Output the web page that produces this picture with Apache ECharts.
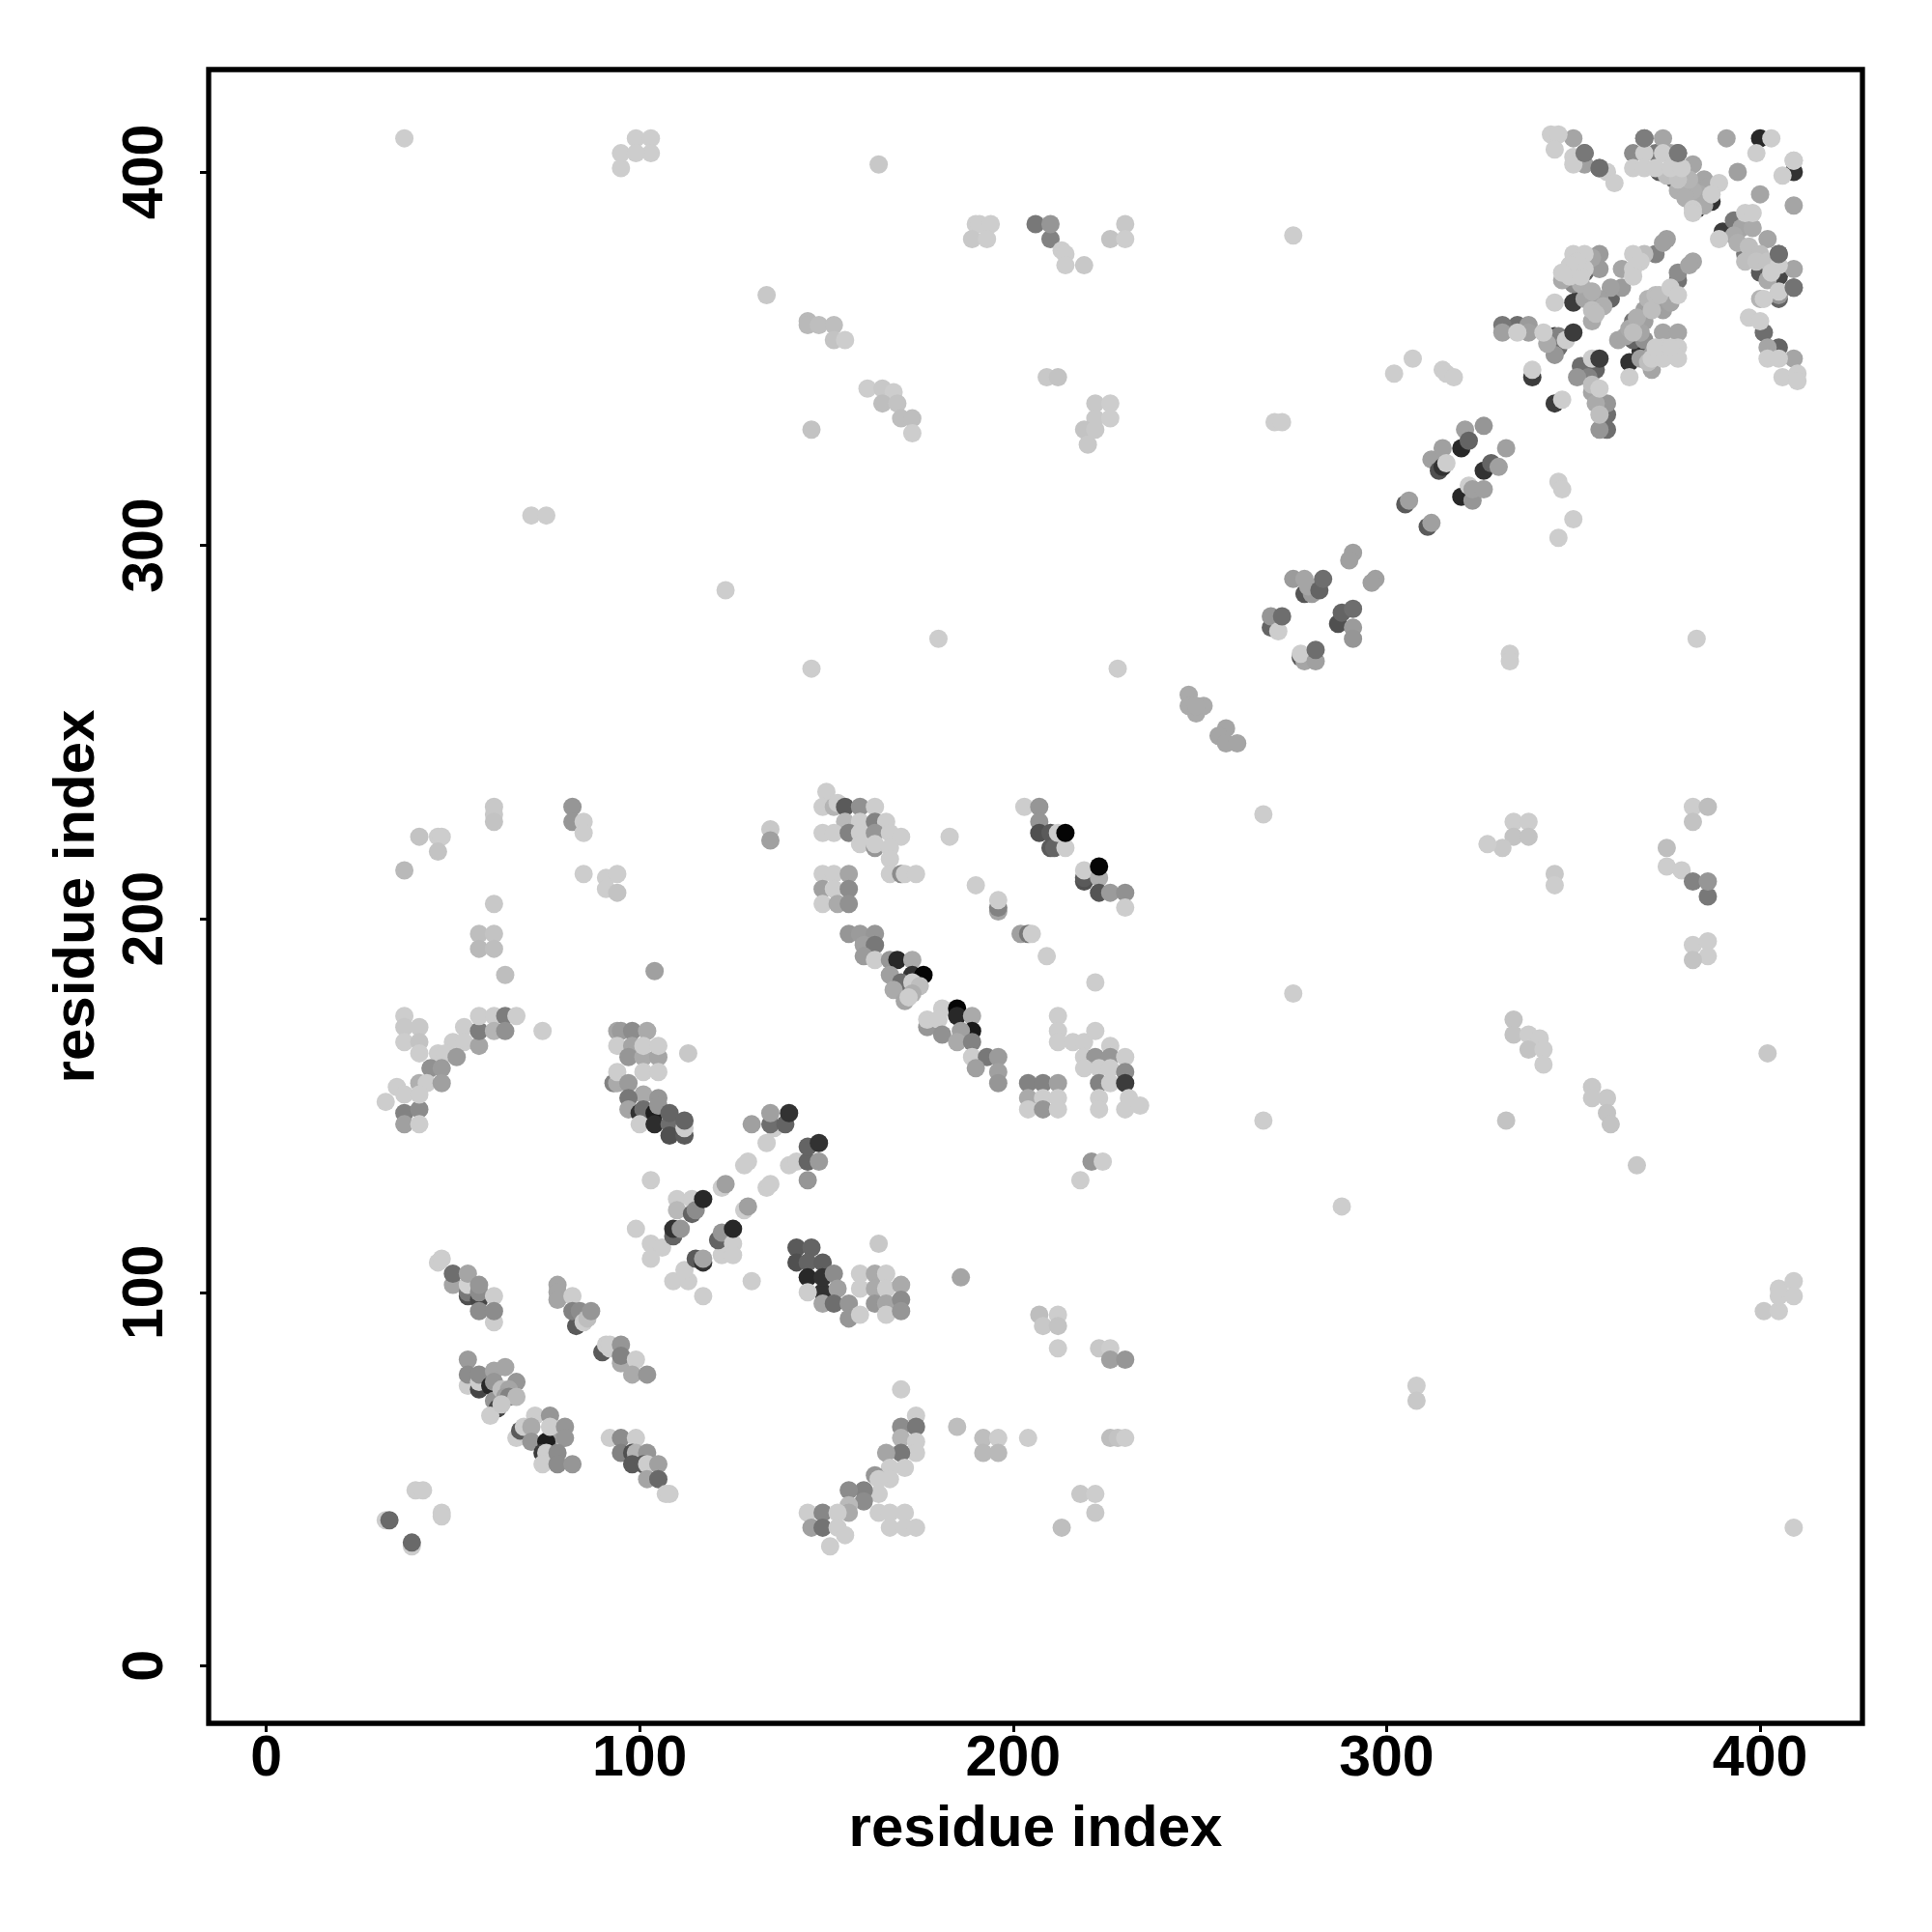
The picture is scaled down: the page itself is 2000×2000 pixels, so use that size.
<!DOCTYPE html>
<html><head><meta charset="utf-8">
<style>html,body{margin:0;padding:0;background:#fff}#c{width:2000px;height:2000px}</style>
<script src="https://cdn.jsdelivr.net/npm/echarts@6/dist/echarts.min.js"></script>
</head><body><div id="c"></div>
<script>
const tickLabels = [0,100,200,300,400];
const axisTitle = "residue index";
// each contact: [residue i, residue j, grey level]
const lowerLeft = [[32,39,205],[33,39,105],[39,32,205],[39,33,105],[40,47,205],[42,47,205],[47,41,205],[47,40,205],
[46,108,205],[47,109,205],[50,102,165],[50,105,110],[54,99,80],[54,100,120],[54,102,210],[54,105,165],[57,98,70],[57,100,140],[57,102,150],[61,99,205],[57,95,140],[61,92,205],[61,95,140],
[78,102,165],[78,100,165],[78,98,165],[82,99,205],[83,91,90],[82,95,130],[84,95,140],[85,92,205],[86,93,190],[87,95,150],
[90,84,90],[91,86,205],[92,85,205],[92,86,205],[95,86,150],[95,81,170],[95,83,130],[99,82,205],[98,78,170],[102,78,150],
[54,82,155],[54,75,205],[54,78,140],[57,74,70],[57,76,205],[57,78,140],[61,79,165],[64,80,165],[60,75,40],[61,76,150],[61,71,150],[62,69,70],[60,67,205],[67,76,150],[63,74,190],[65,74,165],[64,72,160],[65,72,130],[67,72,185],[63,70,200],
[67,61,205],[68,63,90],[69,64,205],[72,67,205],[71,64,170],[71,60,150],[76,67,150],[76,61,160],[75,60,30],[76,64,205],[80,64,150],[80,61,150],
[74,57,60],[75,57,205],[78,57,140],[74,54,205],[78,54,140],[82,54,150],
[92,61,205],[95,61,140],[99,61,205],[95,57,130],[98,57,80],[99,57,180],[102,57,150],[98,54,90],[101,54,90],[102,54,205],[105,54,160],[102,50,165],[105,50,105],[107,46,205],[108,46,205]];
const leftTop = [[61,230,200],[61,228,200],[61,226,195],[82,230,150],[82,226,150],[85,226,205],[85,223,205],[41,222,195],[46,222,205],[47,222,205],[46,218,195],[37,213,185],
[85,212,205],[91,211,205],[94,212,205],[91,208,205],[94,207,195],[61,204,200],[57,196,190],[61,196,195],[57,192,185],[61,192,190],[64,185,190],[104,186,160],
[37,174,205],[37,171,200],[37,167,205],[41,171,200],[41,167,195],[41,164,205],[53,171,205],[50,167,205],[53,167,205],[57,166,165],[57,170,125],[57,174,205],[61,174,205],[61,170,180],[64,174,125],[64,170,145],[67,174,205],[74,170,205],
[46,164,205],[48,164,205],[51,163,155],[44,160,145],[47,160,155],[41,156,175],[43,156,205],[47,156,160],[35,155,205],[32,151,205],[37,148,130],[41,149,140],[37,145,160],[41,145,205],[37,153,205],[41,153,205]];
const blockNear100 = [[94,170,165],[95,170,155],[98,170,140],[102,170,170],[94,166,205],[98,166,165],[97,163,150],[101,163,170],[105,163,165],[101,166,205],[105,166,205],[113,164,200],[101,159,205],[105,159,205],
[93,156,130],[94,156,170],[94,159,205],[97,156,155],[101,153,170],[105,152,150],[97,152,120],[97,149,165],[100,148,50],[101,149,110],[104,148,30],[105,150,150],[100,145,205],[104,145,45],[108,145,110],[108,148,100],[108,142,80],[112,142,90],[112,144,205],[112,146,100]];
const antiParallel = [[103,130,205],[99,117,205],[103,113,205],[106,112,205],[103,109,205],[109,103,205],[113,103,205],[112,106,205],[117,99,205],[130,103,205],
[115,109,90],[117,108,50],[117,109,165],[109,115,100],[109,117,50],[111,117,150],[110,125,205],[114,125,205],[110,122,185],[114,121,100],[115,122,140],[117,125,40],
[122,128,205],[123,129,160],[128,122,205],[129,123,160],[128,134,205],[129,135,205],[134,128,205],[135,129,205],[122,110,205],[121,114,100],[122,116,150],[125,113,205],[125,110,205],[125,117,40],
[134,140,205],[136,144,205],[130,145,160],[135,145,110],[135,148,160],[139,145,100],[140,148,50],[140,134,205],[142,135,205],[145,135,100],[148,135,155],[145,139,100],[148,140,50],[145,130,150]];
const midLower = [[142,112,90],[142,108,80],[146,112,100],[145,108,100],[149,108,95],[145,104,40],[149,100,50],[149,104,50],[145,100,205],[149,97,165],[152,105,140],[153,101,160],[152,97,110],[156,97,150],[156,93,150],[159,94,205],[159,105,205],[159,101,205],[163,105,170],[163,101,170],[163,97,150],[166,105,205],[166,101,205],[166,97,165],[166,94,205],[170,102,170],[170,98,140],[170,95,150],[164,113,200],[186,104,165],
[207,94,190],[212,94,205],[208,91,200],[212,91,195],[212,85,205],[223,85,200],[226,85,205],[226,82,160],[230,82,150],
[170,74,205],[174,67,205],[170,64,140],[174,64,120],[170,61,180],[174,60,205],[174,57,205],[170,57,120],[166,57,165],[171,53,205],[167,53,205],[167,50,205],[163,51,150],[164,50,205],[164,46,205],[160,47,130],[160,44,140],[156,47,140],[156,43,185],[156,41,170],
[164,41,205],[167,41,205],[171,41,205],[167,37,205],[171,37,205],[174,37,205],[145,41,205],[149,41,135],[153,41,205],[146,37,160],[149,37,115],[153,37,205],[155,35,205],[151,32,205],
[185,64,190],[192,61,190],[196,61,205],[192,57,185],[196,57,185],[204,61,205],[226,61,190],[228,61,195],[230,61,205],[218,46,200],[222,46,205],[222,41,200],[213,37,190],
[308,75,205],[308,71,200],[409,37,205],[401,95,200],[405,95,205],[405,99,205],[405,101,205],[409,103,205],[409,99,205]];
const midUpper = [[135,224,200],[135,221,160],[150,234,205],[149,230,205],[152,230,180],[153,231,205],[155,230,90],[159,230,145],[163,230,205],[155,226,185],[159,226,205],[163,226,130],[166,226,205],
[149,223,205],[152,223,205],[156,223,130],[159,223,205],[163,223,150],[167,223,205],[170,222,205],[159,220,205],[163,219,150],[163,220,205],[167,219,205],[167,216,205],[167,212,205],[170,212,140],[171,212,205],[174,212,205],[183,222,205],[190,209,205],[196,202,165],[196,203,130],[196,205,205],
[203,230,205],[207,230,150],[207,226,150],[207,223,80],[210,223,90],[210,219,90],[211,219,100],[214,219,205],[212,223,205],[214,223,5],
[202,196,160],[204,196,120],[205,196,205],[209,190,205],[222,183,205],[219,210,80],[219,211,90],[219,213,205],[223,211,175],[223,214,5],[223,207,85],[226,207,155],[230,207,145],[230,203,205],
[149,212,205],[152,212,205],[156,212,165],[149,208,160],[152,208,205],[156,208,140],[149,204,205],[153,204,170],[156,204,145]];
const midDiagonal = [[156,196,150],[159,196,155],[163,196,150],[160,193,160],[163,193,120],[160,190,155],[163,189,205],
[167,189,150],[169,189,40],[173,189,170],[167,185,160],[173,185,50],[176,185,5],[170,183,110],[168,181,170],[173,183,205],[175,182,190],[173,180,175],[171,178,165],[172,179,205],
[177,171,150],[177,173,205],[181,176,205],[180,173,205],[181,169,145],[185,176,5],[185,174,40],[189,174,170],[189,170,25],[186,170,160],[185,167,170],[189,167,130],
[189,163,205],[193,163,120],[196,163,155],[190,160,160],[196,159,160],[196,156,150],
[204,156,130],[208,156,130],[212,156,160],[204,152,170],[208,152,205],[212,152,205],[204,149,205],[208,149,150],[212,149,205],
[212,174,205],[212,170,205],[212,167,205],[216,167,205],[219,167,205],[222,170,205],[226,166,205],[219,163,205],[222,163,150],[226,163,150],[230,163,205],[219,160,205],[223,160,205],[226,160,205],[230,159,140],[223,156,130],[226,156,205],[230,156,60],[223,152,205],[231,152,205],[223,149,205],[230,149,205],[234,150,205],
[221,135,150],[224,135,205],[218,130,205],[267,146,205],[275,180,205],[267,228,205],[288,123,205],[367,134,200],
[382,230,205],[386,230,190],[382,226,195],[375,219,190],[375,214,205],[379,213,205],[382,210,130],[386,206,120],[386,210,150],[382,193,205],[386,194,205],[386,190,205],[382,189,195],[345,212,200],[345,209,205],
[334,226,205],[338,226,205],[334,222,195],[338,222,195],[331,219,200],[327,220,205],[334,173,195],[334,169,195],[338,169,205],[341,168,205],[338,165,195],[342,165,205],[342,161,205],[355,155,200],[355,152,200],[359,152,200],[359,148,195],[360,145,195],[402,164,200],[332,146,195]];
const nearDiagonal = [[270,333,205],[272,333,205],[333,271,205],[333,269,205],
[247,260,170],[247,257,170],[249,255,170],[251,257,170],[249,257,170],[257,251,165],[255,249,165],[257,247,165],[260,247,165],
[291,298,160],[290,296,160],[297,291,160],[296,290,160],[275,291,155],[278,291,165],[278,287,85],[280,287,155],[279,289,165],[282,288,100],[283,291,110],
[269,278,100],[269,281,150],[271,277,205],[272,281,110],[287,279,80],[288,282,100],[291,283,110],[291,278,155],[291,275,150],
[277,270,90],[278,269,165],[277,271,205],[281,269,160],[281,272,110],
[305,311,90],[306,312,160],[311,305,90],[312,306,160],[312,323,160],[315,326,160],[314,320,80],[315,321,50],[316,322,205],[321,331,160],[320,326,40],[322,328,100],[326,332,150],[332,326,160],
[326,320,50],[328,322,100],[330,321,160],[320,313,40],[322,316,205],[323,312,150],[323,315,160],[326,315,160],
[302,346,205],[307,350,205],[315,347,205],[316,346,205],[318,345,205],[275,383,205],[346,317,205],[347,315,205],[346,302,205],[350,307,205],[383,275,205],[228,267,205],[180,275,205],[146,267,205],[123,288,205],[71,308,205],[75,308,205],[37,409,205],
[95,401,205],[95,405,205],[99,409,205],[103,409,205],[103,405,205],[99,405,205]];
const upperMiddle = [[164,402,200],[134,367,200],[190,386,205],[191,386,205],[194,386,205],[189,382,200],[193,382,205],[206,386,120],[210,382,130],[210,386,150],[213,379,205],[214,378,205],[214,375,205],[219,375,200],[230,386,200],[226,382,195],[230,382,205],
[145,360,185],[145,359,185],[148,359,190],[152,359,190],[152,355,195],[155,355,205],[146,331,195],
[161,342,205],[165,342,200],[168,341,205],[165,338,190],[169,338,195],[170,334,190],[173,334,190],[173,330,205],[209,345,200],[212,345,195],
[222,338,200],[226,338,205],[222,334,200],[226,334,205],[219,331,195],[222,331,200],[220,327,200]];
const topRight = [[344,410,205],[346,410,205],[345,406,205],[350,409,165],[350,404,205],[350,402,205],[353,402,160],[353,405,120],[357,401,110],[359,400,205],[361,397,205],
[369,409,125],[374,409,165],[366,405,140],[366,401,205],[369,405,205],[369,401,205],[372,405,120],[374,405,205],[376,405,165],[378,405,120],[372,401,205],[376,401,205],[373,400,90],[379,401,205],[382,402,165],[377,398,100],[378,398,195],[381,398,180],[385,398,165],[389,397,205],
[379,395,130],[382,391,150],[383,390,50],[382,390,205],[382,389,205],[385,391,170],[387,392,50],[382,395,175],[387,394,205],
[375,399,190],[378,395,175],[380,393,175],[384,394,170],[386,396,165],
[391,409,165],[400,409,40],[403,409,205],[399,405,205],[409,400,50],[409,403,205],[406,399,205],[394,400,160],[400,394,165],[409,391,165],
[393,387,120],[396,389,205],[398,389,205],[390,384,60],[389,382,205],[393,383,170],[395,385,165],[398,385,170],[402,382,165],[397,380,190],[396,378,120],[400,378,190],[405,378,110],[405,375,205],[400,373,90],[403,373,205],[409,374,165],[405,372,70],[402,371,170],[405,368,205],[409,369,115],[405,366,100],[405,367,150],[400,366,180],[401,366,205],
[394,381,175],[396,376,190],[398,378,175],[399,376,195],[402,376,195],
[397,361,205],[400,360,205],[401,357,110],[402,353,165],[405,353,100],[402,350,205],[405,350,205],[409,350,165],[406,345,205],[410,346,205],[410,344,205]];
const upperWing = [[350,378,205],[353,378,205],[366,378,205],[355,377,165],[357,378,155],[357,374,155],[350,374,205],[353,374,205],[363,374,165],[347,371,170],[349,372,205],[353,373,100],[352,372,205],
[369,378,190],[372,378,130],[375,382,160],[374,381,160],[368,376,205],[366,374,205],[366,372,205],[363,369,155],[360,369,160],[350,370,140],[352,368,60],[354,368,160],[357,366,160],[360,366,100],[355,363,190],[355,360,170],[350,365,60],[345,365,205],
[351,376,205],[349,375,205],[352,370,175],[355,368,175],[358,364,175],[356,362,190],[347,373,205],[353,366,165],
[331,357,160],[331,359,120],[335,357,205],[335,359,110],[338,357,160],[338,359,155],[342,357,205],[343,354,170],[345,351,150],[346,353,110],[345,356,50],[346,356,130],[348,355,205],
[339,345,60],[339,347,205],[345,338,60],[347,339,205],[355,350,205],[352,348,110],[351,345,150],[354,345,130],[356,347,100],[355,343,190],[357,342,205],[355,341,165],[356,338,170],[359,338,150],[357,335,190],[359,335,110],[357,331,150],[359,331,110]];
const lowerWing = [[382,376,165],[381,375,165],[378,373,140],[378,371,115],[376,369,205],[378,367,205],[376,365,165],[372,367,190],[374,363,160],[369,363,160],[366,360,115],[369,360,160],[362,355,165],[364,356,165],[366,357,190],[369,355,145],[366,355,100],[368,352,50],[374,357,165],[378,357,165],[374,353,205],[378,353,205],[371,351,160],[368,350,160],[365,349,50],[371,350,205],[374,350,205],[378,350,205],[371,347,165],[365,345,205],
[365,358,170],[367,361,175],[371,363,190],[373,367,190],[370,366,180],[368,357,165],[372,353,205],[376,351,205],[376,353,205],[370,349,190]];
const topmost = [[350,357,60],[357,350,60],[369,409,125],[378,405,120],[353,405,120],[357,401,110],[405,378,110],[409,369,115],[409,403,205]];

const darkFirst = g => g.slice().sort((a,b)=>a[2]-b[2]);
const contactGroups = [lowerLeft,leftTop,blockNear100,antiParallel,midLower,midUpper,midDiagonal,nearDiagonal,upperMiddle,darkFirst(topRight.concat(upperWing,lowerWing)),topmost];
const contacts = contactGroups.flat();
const chart = echarts.init(document.getElementById('c'),null,{renderer:'canvas'});
const labelFont = {fontFamily:'Liberation Sans',fontWeight:'bold',fontSize:59,color:'#000'};
const nameFont = {fontFamily:'Liberation Sans',fontWeight:'bold',fontSize:60,color:'#000'};
const axisCommon = {
  type:'value',min:-15.4,max:427.4,splitLine:{show:false},
  nameLocation:'middle',name:axisTitle,nameTextStyle:nameFont,
  axisLine:{show:false,onZero:false},
  axisTick:{show:true,length:9,lineStyle:{color:'#000',width:3},customValues:tickLabels},
};
chart.setOption({
  animation:false,backgroundColor:'#fff',
  grid:{left:216,right:72,top:72,bottom:216,show:true,borderColor:'#000',borderWidth:5.3,backgroundColor:'transparent'},
  xAxis:Object.assign({},axisCommon,{nameGap:80,axisLabel:Object.assign({},labelFont,{margin:8,customValues:tickLabels,showMinLabel:true,showMaxLabel:true})}),
  yAxis:Object.assign({},axisCommon,{nameGap:106,axisLabel:Object.assign({},labelFont,{margin:35,rotate:90,customValues:tickLabels,showMinLabel:true,showMaxLabel:true})}),
  series:[{type:'scatter',symbol:'circle',symbolSize:19,data:contacts,large:false,silent:true,clip:true,
    itemStyle:{opacity:1,color:p=>{const g=p.value[2];return `rgb(${g},${g},${g})`;}}}]
});
</script></body></html>
